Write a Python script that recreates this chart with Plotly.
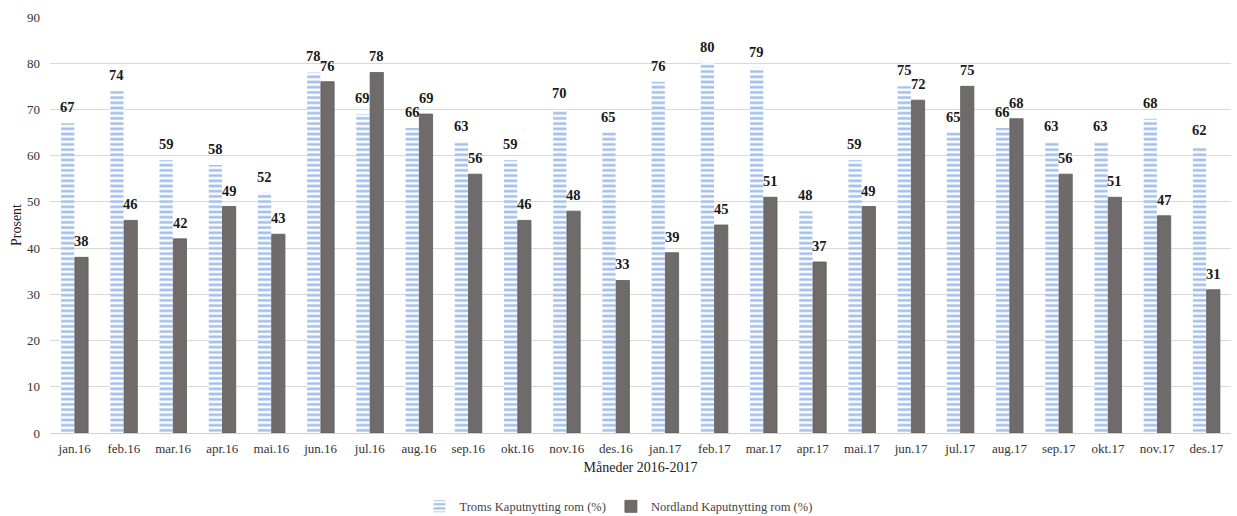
import plotly.graph_objects as go

months = ["jan.16", "feb.16", "mar.16", "apr.16", "mai.16", "jun.16", "jul.16", "aug.16",
          "sep.16", "okt.16", "nov.16", "des.16", "jan.17", "feb.17", "mar.17", "apr.17",
          "mai.17", "jun.17", "jul.17", "aug.17", "sep.17", "okt.17", "nov.17", "des.17"]
troms = [67, 74, 59, 58, 52, 78, 69, 66, 63, 59, 70, 65,
         76, 80, 79, 48, 59, 75, 65, 66, 63, 63, 68, 62]
nordland = [38, 46, 42, 49, 43, 76, 78, 69, 56, 46, 48, 33,
            39, 45, 51, 37, 49, 72, 75, 68, 56, 51, 47, 31]

serif = "Liberation Serif, Times New Roman, serif"
label_font = dict(family=serif, size=14.5, color="#1a1a1a")

fig = go.Figure()
fig.add_trace(go.Bar(
    x=months, y=troms, name="Troms Kaputnytting rom (%)",
    marker=dict(color="white", line=dict(width=0),
                pattern=dict(shape="-", fgcolor="#4a82d8", bgcolor="white",
                             size=5.2, solidity=0.52)),
))
fig.add_trace(go.Bar(
    x=months, y=nordland, name="Nordland Kaputnytting rom (%)",
    marker=dict(color="#6f6b6b", line=dict(color="#5e5a5a", width=0.8)),
))

# value labels above each bar, shifted to the bar's slot within its group
for series, dx in ((troms, -7), (nordland, 7)):
    for m, v in zip(months, series):
        fig.add_annotation(x=m, y=v, text=f"<b>{v}</b>", showarrow=False,
                           xanchor="center", yanchor="bottom", xshift=dx, yshift=6,
                           font=label_font)

fig.update_layout(
    width=1237, height=516,
    margin=dict(l=50, r=6, t=17, b=83, autoexpand=False),
    paper_bgcolor="white", plot_bgcolor="white",
    barmode="group", bargap=0.44, bargroupgap=0.04,
    font=dict(family=serif, size=12, color="#333333"),
    legend=dict(orientation="h", x=0.5, xanchor="center", xref="container",
                y=0.018, yanchor="middle", yref="container",
                font=dict(family=serif, size=12.5, color="#444444"),
                tracegroupgap=0),
    showlegend=True,
)
fig.update_xaxes(
    title=dict(text="Måneder 2016-2017", font=dict(family=serif, size=14, color="#222222"),
               standoff=7),
    tickfont=dict(family=serif, size=13, color="#333333"),
    ticklabelstandoff=6, showline=False, ticks="", automargin=False,
)
fig.update_yaxes(
    title=dict(text="Prosent", font=dict(family=serif, size=14, color="#222222"), standoff=2),
    range=[0, 90], dtick=10, tickfont=dict(family=serif, size=13, color="#333333"),
    ticklabelstandoff=9, automargin=False,
    gridcolor="#d9d9d9", gridwidth=1, zeroline=True, zerolinecolor="#d0d0d0",
    zerolinewidth=1, ticks="",
)

fig.write_html("out.html")
